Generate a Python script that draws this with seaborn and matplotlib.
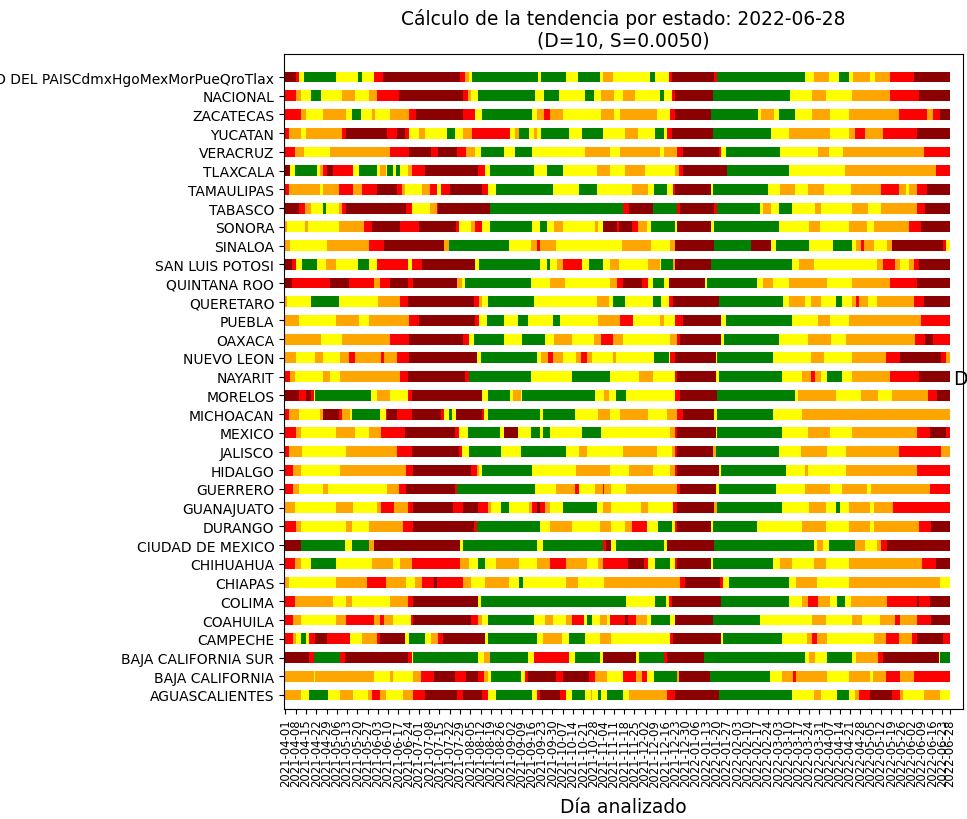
import numpy as np
import pandas as pd
import matplotlib
matplotlib.use("Agg")
import matplotlib.pyplot as plt
import seaborn as sns

# States, top to bottom as in the chart
states = [
    "CENTRO DEL PAISCdmxHgoMexMorPueQroTlax", "NACIONAL", "ZACATECAS", "YUCATAN",
    "VERACRUZ", "TLAXCALA", "TAMAULIPAS", "TABASCO", "SONORA", "SINALOA",
    "SAN LUIS POTOSI", "QUINTANA ROO", "QUERETARO", "PUEBLA", "OAXACA",
    "NUEVO LEON", "NAYARIT", "MORELOS", "MICHOACAN", "MEXICO", "JALISCO",
    "HIDALGO", "GUERRERO", "GUANAJUATO", "DURANGO", "CIUDAD DE MEXICO",
    "CHIHUAHUA", "CHIAPAS", "COLIMA", "COAHUILA", "CAMPECHE",
    "BAJA CALIFORNIA SUR", "BAJA CALIFORNIA", "AGUASCALIENTES",
]

# Run-length trend per state: code + day index where the run ends
# D=darkred, R=red, O=orange, Y=yellow, G=green  (day 0 = 2021-04-01)
runs = [
    "D8 R10 Y13 G35 Y50 G53 Y61 R67 D120 R123 O126 Y128 G173 Y175 G192 Y200 G215 Y217 O224 Y249 G253 Y262 R264 D293 R295 G355 Y361 O371 Y378 G385 Y388 O399 Y403 O413 R429 D454",
    "R8 O11 Y18 G25 Y39 O48 Y58 O63 R78 D122 R125 O127 Y132 G171 Y177 G187 Y205 G211 Y216 O225 Y231 O239 Y256 G259 Y264 R266 D292 G345 Y360 O369 Y387 O413 R433 D454",
    "R11 O15 Y26 O42 Y46 G52 Y60 O62 Y72 O85 R90 D122 R130 Y135 G169 Y172 O177 R181 O190 Y216 O225 Y229 O254 Y263 R266 D291 G323 Y325 O334 Y337 G348 Y360 O372 Y385 O419 R438 O442 R447 D454",
    "R3 O11 Y15 O39 R42 D70 R77 D82 R85 Y92 O96 Y111 G116 Y122 O128 R154 Y157 O160 G167 Y170 O172 Y175 G194 Y203 G217 Y232 O241 Y253 G259 Y261 R264 D292 G332 Y344 O372 Y385 O389 R396 O408 R431 D454",
    "R7 O13 Y31 O72 R85 D100 R105 D118 R124 O130 Y134 G150 Y157 G169 Y205 O222 Y229 O256 Y259 O268 R272 D296 R298 Y301 G338 Y364 O371 Y381 O436 R454",
    "D4 Y7 G22 Y24 O26 R29 D33 R47 Y51 G63 Y65 O69 Y70 G74 Y76 G79 Y84 O87 R96 D132 R137 Y140 G170 Y179 G190 Y213 O222 Y232 O246 Y266 O269 R272 D302 G344 Y382 O444 R454",
    "R3 O24 Y26 O37 R47 O53 R63 D77 R80 O82 Y94 O99 R104 Y107 R113 D135 R139 Y144 G183 Y201 G213 Y237 O248 Y252 G261 Y265 R266 D291 Y292 G330 Y338 O348 Y357 O368 Y386 O407 R419 O424 Y426 O431 R438 D454",
    "D10 R14 O18 Y26 G28 Y37 O39 R42 D83 R87 Y99 O104 R105 D140 G231 R235 D251 G268 R270 D293 R295 G324 Y326 O332 Y337 G346 Y362 O366 Y387 O398 Y407 O431 R437 D454",
    "O2 Y14 O16 Y37 O54 R60 D79 R92 D117 R119 Y127 O130 R135 Y140 G169 Y174 G179 Y184 O190 Y212 O214 Y217 D227 R228 D237 R241 O247 Y250 G266 Y268 D291 Y293 G337 Y358 O365 Y385 O397 Y402 O426 R434 D454",
    "O4 Y29 O58 R68 D109 O112 G153 Y168 O172 R174 O185 Y230 O250 Y263 O266 D293 G318 D332 Y335 G358 Y374 G387 Y390 O393 R395 O402 Y411 O414 D449 R451 Y454",
    "D5 R8 Y12 G22 Y28 O35 Y50 G58 Y63 R84 Y87 R94 D130 Y133 G174 Y179 G181 Y186 O190 R203 Y208 G217 Y222 O228 Y248 O256 Y257 G265 O266 D291 G346 Y351 O361 Y404 O408 R416 O420 Y426 O429 R433 D454",
    "D5 R31 D44 R61 O65 R72 D84 R88 D118 O121 Y123 G168 Y181 O191 Y222 O227 R231 D244 R248 Y251 G259 Y262 D287 Y288 G322 Y326 O333 Y344 O370 Y387 O413 R431 D454",
    "O2 Y18 G37 Y64 O79 R84 D129 R133 O135 Y139 G170 Y213 O221 Y224 G232 Y251 G257 Y262 R265 D296 G340 Y344 O355 Y359 O366 Y376 G380 Y387 O390 R392 O398 Y404 O429 R436 D454",
    "O10 Y35 O51 Y58 O85 R92 D130 R133 Y138 G150 Y159 G166 Y183 G188 Y214 O229 R238 Y256 O259 Y266 R272 D298 Y301 G346 Y364 O372 Y385 O434 R454",
    "O25 Y39 O72 R85 D122 R126 Y129 G150 Y162 G178 Y184 O196 Y211 O216 R224 O231 Y263 O268 R270 D298 Y300 G337 Y357 O373 Y383 O430 R437 D442 R454",
    "O8 Y21 O26 Y38 O44 R48 O66 R68 O77 R85 D131 Y134 G172 Y175 O180 R183 O190 Y199 O202 R206 O210 Y224 O226 Y252 G262 Y263 R266 D294 Y295 G333 Y359 O368 Y387 O410 R420 D448 R451 O454",
    "R4 O7 Y26 O31 Y38 O79 R84 D123 R126 G168 Y196 G222 Y242 O251 Y266 R268 D294 Y296 G339 Y353 O359 R362 O366 Y370 G380 Y387 O413 R433 D454",
    "D10 R15 D18 R20 Y21 G59 Y63 O72 Y84 R87 D135 Y139 G154 Y156 O161 Y162 G212 Y218 O221 Y226 G233 Y266 R270 D295 G348 Y350 O376 Y393 O405 Y414 O439 R445 D454",
    "R3 O10 Y24 O26 D37 R39 O45 Y46 G65 Y69 R70 D77 R87 D107 R109 Y112 G114 Y117 D135 R136 Y139 G174 Y176 G198 Y214 O222 Y229 O248 Y261 O268 R272 D293 Y295 G333 Y353 O454",
    "R8 O11 Y35 O48 Y58 O66 R82 D116 R119 Y125 G147 Y150 D159 Y168 G174 Y176 G181 Y203 G216 Y263 O266 R268 D294 Y295 G339 Y357 O372 Y387 O431 R440 D451 R454",
    "R3 O12 Y42 O77 R87 D119 R121 Y126 G148 Y161 G192 Y201 O206 Y231 O254 Y264 O266 R268 D292 O294 G337 Y352 O370 Y383 O419 R448 O454",
    "R6 O11 Y38 O83 R88 D127 R131 O133 Y135 G169 Y199 O222 Y235 O251 Y263 O266 R268 D296 Y298 G342 Y355 O357 Y383 O431 R454",
    "R6 O10 Y26 O30 Y70 O78 R83 D116 R118 G171 Y185 O198 R201 Y212 O217 R218 O223 Y233 O268 R270 D294 Y296 G335 Y355 O372 Y380 O397 Y400 O440 R454",
    "O7 Y35 O47 Y63 O66 R75 O84 R88 D115 R122 D132 R139 O141 Y148 G153 Y167 O169 R172 D174 R178 O181 Y190 G213 Y217 O223 Y243 O248 Y265 R268 D293 O295 G339 Y358 O369 Y376 G379 Y385 O399 Y402 O415 R454",
    "R8 O11 Y42 O46 Y58 O81 R88 D129 R131 G174 Y181 O196 Y215 O223 Y232 O237 R247 Y255 G264 Y266 R268 D291 Y292 G322 Y353 O369 Y385 O399 Y402 O433 R441 D454",
    "D11 G41 Y46 G58 O61 D120 Y122 G172 Y176 G217 R219 D223 Y226 G259 Y261 D293 G361 Y363 O367 Y371 G389 O396 Y404 O407 R411 D454",
    "R7 O11 Y18 G35 Y60 O74 Y79 O87 R120 O126 Y132 G137 Y144 O160 Y172 O181 R192 O206 Y214 O217 R234 D245 R248 Y253 G263 Y266 R268 D291 Y292 G333 Y338 O346 Y361 O369 Y385 O435 R444 D454",
    "O3 Y35 O56 R69 O83 Y89 O94 R102 D104 R122 O127 Y137 O153 Y160 G163 Y192 O200 Y218 O270 R273 D297 R299 Y303 G344 Y349 O363 Y385 O447 Y454",
    "R7 O33 Y42 O46 Y72 O84 R88 D132 Y134 G233 Y253 G260 Y262 R264 D298 G344 Y353 O357 R364 O372 Y377 G382 Y386 O411 R431 D433 R440 D454",
    "R6 O11 Y35 O42 R61 O65 R68 O74 Y86 R88 D127 R132 O135 Y139 G170 Y178 O183 Y192 O196 R204 Y206 G210 Y215 O220 Y222 R232 D234 R240 O247 Y250 G263 Y266 D292 G324 Y360 O369 Y387 O394 Y406 O416 R420 O431 R441 D454",
    "R6 O8 Y11 G15 Y17 R21 D29 R45 Y53 O63 R65 D82 Y85 G96 Y100 O105 R108 D137 Y139 G172 Y176 O189 Y194 G205 Y215 O223 Y263 R265 D298 Y299 G339 Y356 O360 R363 O370 Y402 O410 R419 O428 R431 D449 R454",
    "D17 R20 G38 R41 D84 R87 Y88 G132 Y136 O140 G166 Y170 R194 Y198 G215 Y217 D240 Y242 G259 R261 D286 G355 Y358 O362 Y370 G387 Y390 O405 R408 D446 Y447 G454",
    "O20 Y21 O61 Y72 O74 Y88 O93 R102 D116 R124 D132 R136 O139 Y141 G161 Y164 R166 D185 R190 D208 R212 O220 Y231 R240 O244 R247 Y252 G268 O269 D290 G331 Y339 O347 R349 O370 Y385 O399 Y401 O410 R420 O429 R454",
    "O11 Y17 G30 Y38 O47 Y57 O60 R65 O69 Y81 O88 R96 D118 R122 D135 R139 Y144 G169 Y172 R174 D188 R192 Y196 G205 Y209 O210 Y214 G216 Y220 G231 Y235 O261 R266 D296 G346 Y361 O366 Y377 G385 Y389 O392 R399 D414 R420 O422 Y436 O447 Y454",
]

codes = ["D", "R", "O", "Y", "G"]
color_names = ["darkred", "red", "orange", "yellow", "green"]
start_date = "2021-04-01"
end_date = "2022-06-28"

palette = dict(zip(codes, sns.color_palette(color_names)))

# Build a segment table
rows = []
n = len(states)
for i, (st, r) in enumerate(zip(states, runs)):
    s = 0
    for tok in r.split():
        e = int(tok[1:])
        rows.append(dict(state=st, ypos=n - 1 - i, code=tok[0], start=s, end=e))
        s = e
seg = pd.DataFrame(rows)

fig = plt.figure(figsize=(9.67, 8.2), dpi=100)
ax = fig.add_axes([284 / 967, 110 / 820, 679 / 967, 655 / 820])

for code, g in seg.groupby("code"):
    ax.barh(g["ypos"], g["end"] - g["start"], left=g["start"] - 0.7,
            height=0.58, color=palette[code], linewidth=0)

ax.set_yticks(range(n))
ax.set_yticklabels(states[::-1], fontsize=10)
ax.set_ylim(-0.75, n - 1 + 1.23)

dates = pd.date_range(start_date, end_date, freq="D")
tick_days = list(range(0, 449, 7)) + [len(dates) - 1]
tick_labels = [dates[d].strftime("%Y-%m-%d") for d in tick_days]
ax.set_xticks(tick_days)
ax.set_xticklabels(tick_labels, rotation=90, fontsize=8.4)
ax.set_xlim(-1, 462)

ax.set_title("Cálculo de la tendencia por estado: 2022-06-28\n(D=10, S=0.0050)", fontsize=13.4)
ax.set_xlabel("Día analizado", fontsize=13.4, labelpad=7)

fig.text(953 / 967, 1 - 380 / 820, "D", fontsize=13.4, ha="left", va="center")

fig.savefig("out.png", dpi=100)
